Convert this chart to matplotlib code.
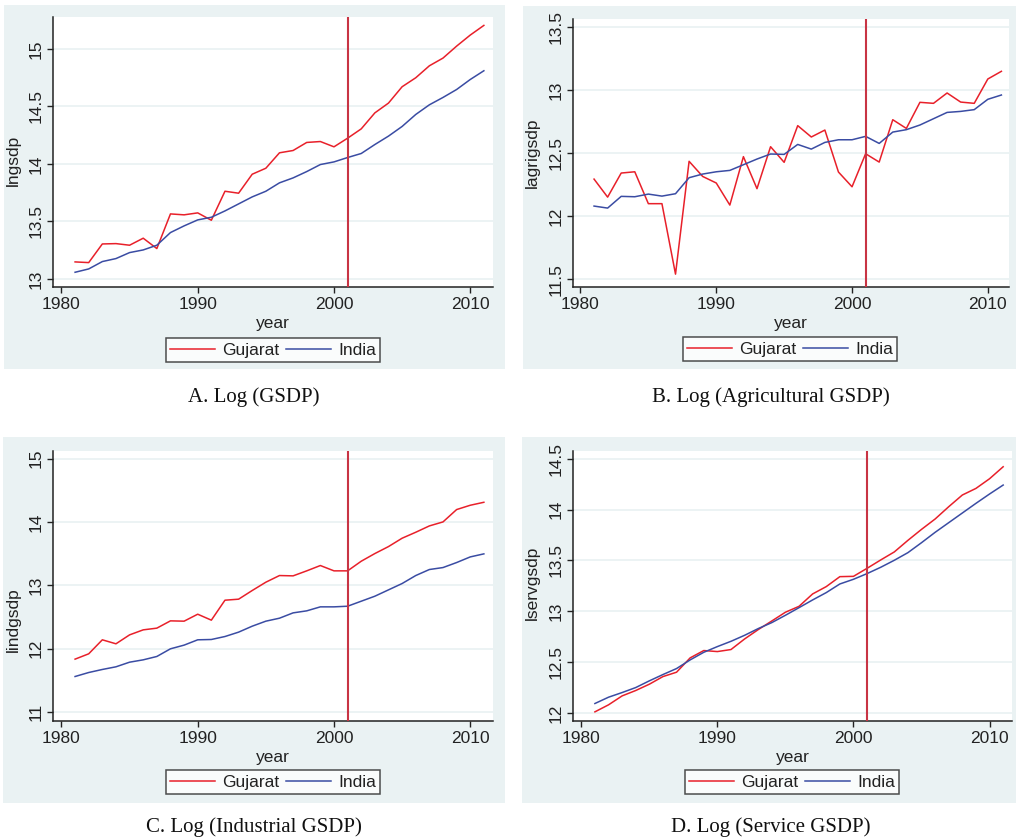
import matplotlib
matplotlib.use("Agg")
import matplotlib.pyplot as plt
from matplotlib.lines import Line2D

W, H = 1016, 840

years = list(range(1981, 2012))

# A. log GSDP
guj_gsdp = [13.148, 13.142, 13.304, 13.307, 13.293, 13.354, 13.264, 13.565, 13.557, 13.574,
            13.510, 13.762, 13.745, 13.910, 13.962, 14.096, 14.116, 14.186, 14.194, 14.148,
            14.223, 14.304, 14.443, 14.528, 14.670, 14.748, 14.852, 14.919, 15.023, 15.119, 15.203]
ind_gsdp = [13.058, 13.087, 13.151, 13.177, 13.229, 13.252, 13.293, 13.403, 13.461, 13.513,
            13.536, 13.591, 13.652, 13.713, 13.762, 13.835, 13.878, 13.933, 13.994, 14.017,
            14.055, 14.090, 14.168, 14.241, 14.325, 14.429, 14.513, 14.577, 14.646, 14.733, 14.809]

# B. log agricultural GSDP
guj_agri = [12.296, 12.153, 12.344, 12.354, 12.101, 12.101, 11.542, 12.437, 12.317, 12.265,
            12.090, 12.474, 12.220, 12.553, 12.429, 12.720, 12.630, 12.685, 12.352, 12.235,
            12.497, 12.431, 12.767, 12.698, 12.905, 12.897, 12.979, 12.907, 12.897, 13.090, 13.151]
ind_agri = [12.082, 12.066, 12.159, 12.156, 12.177, 12.161, 12.180, 12.307, 12.336, 12.354,
            12.365, 12.410, 12.455, 12.495, 12.492, 12.571, 12.534, 12.587, 12.608, 12.608,
            12.635, 12.579, 12.669, 12.688, 12.725, 12.775, 12.825, 12.833, 12.847, 12.929, 12.963]

# C. log industrial GSDP
guj_ind = [11.836, 11.920, 12.141, 12.078, 12.219, 12.298, 12.325, 12.440, 12.435, 12.545,
           12.451, 12.766, 12.782, 12.919, 13.050, 13.155, 13.150, 13.229, 13.313, 13.229,
           13.229, 13.381, 13.502, 13.612, 13.744, 13.838, 13.938, 14.001, 14.196, 14.264, 14.311]
ind_ind = [11.562, 11.625, 11.673, 11.715, 11.788, 11.825, 11.878, 11.999, 12.057, 12.141,
           12.146, 12.193, 12.262, 12.356, 12.435, 12.482, 12.566, 12.598, 12.661, 12.661,
           12.671, 12.750, 12.829, 12.929, 13.029, 13.155, 13.250, 13.281, 13.360, 13.449, 13.497]

# D. log service GSDP
guj_serv = [12.010, 12.079, 12.167, 12.220, 12.282, 12.357, 12.400, 12.541, 12.613, 12.603,
            12.623, 12.727, 12.819, 12.904, 12.990, 13.048, 13.170, 13.242, 13.340, 13.343,
            13.422, 13.504, 13.583, 13.697, 13.805, 13.907, 14.028, 14.143, 14.208, 14.303, 14.421]
ind_serv = [12.092, 12.154, 12.200, 12.249, 12.315, 12.377, 12.436, 12.521, 12.596, 12.652,
            12.704, 12.763, 12.829, 12.888, 12.960, 13.035, 13.111, 13.183, 13.268, 13.314,
            13.370, 13.432, 13.501, 13.576, 13.674, 13.776, 13.871, 13.966, 14.061, 14.153, 14.241]

break_year = 2001
x_ticks = [1980, 1990, 2000, 2010]

BG = "#EAF2F3"
RED = "#E8202A"
BLUE = "#3A4CA3"
VLINE = "#C83444"

plt.rcParams["font.family"] = ["Liberation Sans", "DejaVu Sans"]


def frect(x0, y0, x1, y1):
    return [x0 / W, 1 - y1 / H, (x1 - x0) / W, (y1 - y0) / H]


fig = plt.figure(figsize=(W / 100, H / 100), dpi=100)

panels = [
    dict(bg=(4, 5, 505, 369), ax=(53, 17, 493, 287), xlim=(1979.38, 2011.67), ylim=(12.93, 15.276),
         yt=[13, 13.5, 14, 14.5, 15], ylab="lngsdp", ylp=(13, 160), leg=(273, 350),
         g=guj_gsdp, i=ind_gsdp, cap="A. Log (GSDP)", cp=(254, 397)),
    dict(bg=(523, 6, 1016, 369), ax=(573, 19, 1009, 287), xlim=(1979.45, 2011.56), ylim=(11.44, 13.566),
         yt=[11.5, 12, 12.5, 13, 13.5], ylab="lagrigsdp", ylp=(532, 153), leg=(790, 349),
         g=guj_agri, i=ind_agri, cap="B. Log (Agricultural GSDP)", cp=(771, 397)),
    dict(bg=(3, 437, 505, 803), ax=(53, 451, 493, 721), xlim=(1979.38, 2011.67), ylim=(10.86, 15.12),
         yt=[11, 12, 13, 14, 15], ylab="lindgsdp", ylp=(13, 620), leg=(273, 782),
         g=guj_ind, i=ind_ind, cap="C. Log (Industrial GSDP)", cp=(254, 827)),
    dict(bg=(522, 437, 1016, 803), ax=(573, 451, 1012, 721), xlim=(1979.39, 2011.65), ylim=(11.92, 14.576),
         yt=[12, 12.5, 13, 13.5, 14, 14.5], ylab="lservgsdp", ylp=(532, 583), leg=(792, 782),
         g=guj_serv, i=ind_serv, cap="D. Log (Service GSDP)", cp=(771, 827)),
]

for p in panels:
    # outer graph region (light blue-grey)
    bg = fig.add_axes(frect(*p["bg"]), zorder=-5)
    bg.set_facecolor(BG)
    bg.set_xticks([])
    bg.set_yticks([])
    for s in bg.spines.values():
        s.set_visible(False)

    ax = fig.add_axes(frect(*p["ax"]), zorder=1)
    ax.set_facecolor("white")
    ax.plot(years, p["g"], color=RED, lw=1.1, zorder=3)
    ax.plot(years, p["i"], color=BLUE, lw=1.1, zorder=3)
    ax.axvline(break_year, color=VLINE, lw=1.5, zorder=4)

    ax.set_xlim(*p["xlim"])
    ax.set_ylim(*p["ylim"])
    ax.set_xticks(x_ticks)
    ax.set_yticks(p["yt"])
    ax.set_yticklabels([("%g" % v) for v in p["yt"]], rotation=90, va="center")
    ax.grid(axis="y", color=BG, lw=1.3)
    ax.set_axisbelow(True)

    for s in ["top", "right"]:
        ax.spines[s].set_visible(False)
    for s in ["left", "bottom"]:
        ax.spines[s].set_color("#222222")
        ax.spines[s].set_linewidth(1.1)
    ax.tick_params(direction="out", length=4, width=1.0, color="#222222",
                   labelsize=12.5, labelcolor="#222222", pad=3)

    ax.set_xlabel("year", fontsize=12.5, color="#222222", labelpad=3)
    ax.set_ylabel(p["ylab"], fontsize=12.5, color="#222222", va="center")
    ax.yaxis.set_label_coords(p["ylp"][0] / W, 1 - p["ylp"][1] / H, transform=fig.transFigure)

    handles = [Line2D([], [], color=RED, lw=1.1), Line2D([], [], color=BLUE, lw=1.1)]
    leg = fig.legend(handles, ["Gujarat", "India"], loc="center",
                     bbox_to_anchor=(p["leg"][0] / W, 1 - p["leg"][1] / H),
                     ncol=2, fontsize=12.5, frameon=True, fancybox=False,
                     handlelength=2.6, handletextpad=0.4, columnspacing=0.4,
                     borderpad=0.25, borderaxespad=0)
    leg.get_frame().set_edgecolor("#222222")
    leg.get_frame().set_linewidth(1.1)
    for t in leg.get_texts():
        t.set_color("#222222")

    fig.text(p["cp"][0] / W, 1 - p["cp"][1] / H, p["cap"], ha="center", va="center",
             fontsize=15, family=["Liberation Serif", "DejaVu Serif"], color="#111111")

fig.savefig("out.png", dpi=100, facecolor="white")
